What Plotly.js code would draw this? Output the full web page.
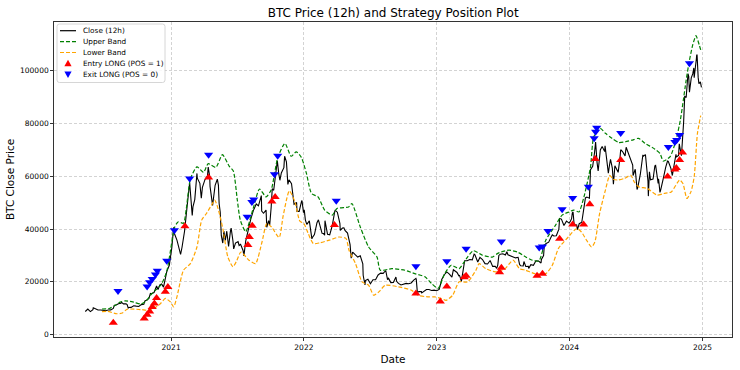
<!DOCTYPE html>
<html>
<head>
<meta charset="utf-8">
<script src="https://cdn.plot.ly/plotly-3.0.1.min.js"></script>
<style>html,body{margin:0;padding:0;background:#fff;}#chart{width:740px;height:370px;}</style>
</head>
<body>
<div id="chart"></div>
<script>
// ---- Close (weekly, starting 2020-05-10) ----
var closeStart = '2020-05-10';
var close2020 = [8750,9670,8720,9450, 9750,9340,9300,9120, 9070,9300,9380,9930, 11100,11680,11910,11650,11700,
  10250,10330,10920,10780, 10670,11380,11500,13030, 13740,15480,15960,18400,18180, 19150,19270,23860,26270];
var close2021 = [33000,38300,35800,32290,33110, 39260,48720,57540,45140, 51200,59300,57350,55800,
  58750,60200,56200,49000, 56600,58200,46400,34700,35700, 35800,39100,35500,34700, 35300,34240,31780,35400,
  39900,43800,47000,49300,48800, 51750,46000,47200,43200, 48200,54700,61500,60900,61300,
  63300,65500,58700,57200, 49400,50100,46700,50800];
var close2022 = [47300,41800,43100,36300,37900, 42400,42200,38400,37700, 38400,37800,41300,46800,
  46400,42200,40400,39500, 38500,34100,31300,30300,29400, 29900,26800,20500,21000,
  19300,20800,20800,22600,23300, 23200,24300,21500,19700, 19800,21800,19400,18800,
  19000,19400,19270,19570,20630, 20900,16330,16280,16460, 17100,17100,16740,16840];
var close2023 = [16620,17120,20880,22700,23750, 22930,21780,24300,23560, 22430,22130,28000,27990,
  28450,28330,30300,27600,29250, 28450,26900,26750,28080, 25850,25920,26340,30480,
  30620,30170,30250,29800,29280, 29080,29300,26100,26020, 25800,25850,26530,26250,
  27990,27920,27150,29990,34530, 35040,37060,37380,37450, 39970,43790,41370,43010,42280];
var close2024 = [43930,41730,41580,42030, 42580,48300,52140,51730, 63100,68950,65300,67230,71300,
  69360,65660,64940,63120, 64000,61500,66940,69400, 67750,69650,66600,64260,62680,
  55850,60800,68160,68250, 58120,58710,58970,64160, 57300,54840,59130,63580,65600,
  63000,62850,68360,67940, 68740,80470,89850,97900, 97300,101100,104460,95100,93700];
// extra 12h swing closes between the weekly points
var swingDates = ['2020-06-01','2020-07-29','2020-08-17','2020-09-02','2020-09-05','2020-10-21','2020-11-05','2020-11-26',
  '2020-12-01','2020-12-11','2020-12-17','2021-01-08','2021-01-27','2021-03-02','2021-03-13','2021-03-25','2021-04-13',
  '2021-04-17','2021-04-23','2021-05-08','2021-05-11','2021-05-13','2021-05-19','2021-05-26','2021-06-03','2021-06-08',
  '2021-06-15','2021-06-22','2021-06-30','2021-07-07','2021-07-20','2021-08-23','2021-09-06','2021-09-07','2021-09-21',
  '2021-09-29','2021-10-06','2021-10-20','2021-10-27','2021-11-09','2021-11-18','2021-12-13','2021-12-27','2021-12-31',
  '2022-01-05','2022-01-24','2022-02-10','2022-02-24','2022-02-28','2022-03-07','2022-03-28','2022-04-11','2022-04-21',
  '2022-05-05','2022-05-11','2022-06-13','2022-06-18','2022-08-19','2022-09-13','2022-11-05','2022-11-08','2022-11-09',
  '2022-11-21','2023-01-13','2023-02-16','2023-03-03','2023-03-10','2023-03-17','2023-04-14','2023-04-24','2023-06-15',
  '2023-06-21','2023-07-13','2023-08-17','2023-08-29','2023-09-11','2023-10-16','2023-10-24','2023-11-15','2023-12-05',
  '2024-01-03','2024-01-09','2024-01-11','2024-01-23','2024-02-14','2024-02-28','2024-03-05','2024-03-13','2024-03-20',
  '2024-03-26','2024-04-08','2024-04-12','2024-04-17','2024-04-23','2024-05-01','2024-05-14','2024-05-21','2024-06-05',
  '2024-06-24','2024-07-05','2024-07-22','2024-07-29','2024-08-05','2024-08-08','2024-08-14','2024-08-23','2024-09-02',
  '2024-09-06','2024-09-18','2024-09-27','2024-10-10','2024-10-21','2024-10-29','2024-11-04','2024-11-12','2024-11-13',
  '2024-11-22','2024-11-26','2024-12-05','2024-12-09','2024-12-16','2024-12-17','2024-12-20','2024-12-26'];
var swingValues = [10200,11100,12300,11400,10100,12800,15600,17100,
  18800,18000,23000,40700,30400,48400,61100,51700,63500,
  60000,51000,58900,56700,49700,37500,39200,39200,33400,
  40400,32500,35000,33800,29800,49500,52700,46800,40700,
  41500,55300,65900,58500,67600,56900,46700,50600,46200,
  43500,36700,43500,38300,43200,38000,47100,39500,40500,
  36500,29000,22500,18800,20800,20200,21300,18500,15900,
  15800,19900,24600,22300,20200,27400,30500,27500,25100,
  30000,31400,26600,27700,25100,28500,33900,37800,44000,
  42800,46100,46500,39800,51800,62500,63800,73000,62000,
  70000,71600,67000,61200,66400,57000,61500,70100,71000,
  60300,55000,67600,66800,52500,61700,58700,64000,59100,
  53900,61700,65900,60300,67300,72300,67800,88600,90400,
  98900,91900,98800,97400,106100,106000,97500,95800];

// ---- Upper band ----
var upperDates = ['2020-06-25','2020-07-15','2020-07-30','2020-08-12','2020-08-28','2020-09-20','2020-10-10','2020-10-25',
  '2020-11-05','2020-11-20','2020-12-05','2020-12-20','2021-01-04','2021-01-10','2021-01-20','2021-02-04','2021-02-12',
  '2021-02-23','2021-03-13','2021-03-31','2021-04-13','2021-05-04','2021-05-22','2021-06-10','2021-06-21','2021-07-02',
  '2021-07-10','2021-07-25','2021-08-14','2021-09-01','2021-09-19','2021-10-03','2021-10-21','2021-11-10','2021-11-27',
  '2021-12-11','2021-12-25','2022-01-08','2022-01-22','2022-02-09','2022-02-27','2022-03-20','2022-04-02','2022-05-04',
  '2022-05-13','2022-06-05','2022-06-28','2022-07-21','2022-07-30','2022-08-31','2022-10-06','2022-11-02','2022-11-30',
  '2022-12-18','2023-01-05','2023-01-23','2023-02-10','2023-03-04','2023-03-15','2023-03-27','2023-04-12','2023-05-07',
  '2023-06-03','2023-06-17','2023-06-27','2023-07-19','2023-08-11','2023-09-03','2023-09-21','2023-10-09','2023-10-28',
  '2023-11-24','2023-12-12','2023-12-31','2024-01-13','2024-01-27','2024-02-10','2024-02-28','2024-03-08','2024-03-26',
  '2024-04-09','2024-04-27','2024-05-16','2024-06-03','2024-06-21','2024-07-09','2024-07-27','2024-08-23','2024-09-06',
  '2024-09-15','2024-10-04','2024-10-20','2024-11-01','2024-11-08','2024-11-17','2024-11-26','2024-12-05','2024-12-14',
  '2024-12-23','2024-12-28'];
var upperValues = [9700,9900,11000,12200,12800,12300,11600,12800,
  14900,17000,19000,24000,36000,40500,42700,42200,48000,
  59000,63600,61500,64800,63400,68200,63800,62000,51000,
  43500,39000,47500,55200,52200,54800,67000,72500,67600,
  69300,67200,61100,53500,52200,47200,45300,47800,48400,
  49700,40800,33200,29400,24400,25000,24400,23100,21900,
  19400,17500,23100,26300,25000,27000,29400,31800,30100,
  29400,30700,31300,32000,31300,29400,28200,27900,35800,
  41500,45300,46500,47200,46500,52200,63600,75000,78200,
  76300,74400,72800,73100,73700,74400,72500,70300,68700,
  65800,67500,73700,81300,87700,96500,104000,109800,113300,
  109800,107500];

// ---- Lower band ----
var lowerDates = ['2020-06-25','2020-07-10','2020-08-05','2020-08-20','2020-09-02','2020-10-09','2020-11-05','2020-12-03',
  '2020-12-16','2020-12-30','2021-01-08','2021-01-17','2021-02-04','2021-02-23','2021-03-13','2021-03-26','2021-04-08',
  '2021-04-22','2021-05-01','2021-05-10','2021-05-24','2021-06-06','2021-06-20','2021-06-29','2021-07-12','2021-08-03',
  '2021-08-21','2021-09-08','2021-09-21','2021-10-04','2021-10-25','2021-11-05','2021-11-22','2021-12-07','2021-12-21',
  '2022-01-01','2022-01-13','2022-01-27','2022-02-14','2022-03-12','2022-04-08','2022-04-27','2022-05-05','2022-05-23',
  '2022-06-10','2022-06-28','2022-07-12','2022-07-26','2022-08-13','2022-09-18','2022-10-24','2022-11-11','2022-12-08',
  '2022-12-27','2023-01-14','2023-01-27','2023-02-14','2023-03-04','2023-03-27','2023-04-19','2023-04-28','2023-05-16',
  '2023-06-11','2023-07-08','2023-07-30','2023-08-17','2023-09-03','2023-09-28','2023-10-28','2023-11-15','2023-12-02',
  '2023-12-29','2024-01-21','2024-02-03','2024-02-17','2024-03-02','2024-03-11','2024-03-24','2024-04-09','2024-04-21',
  '2024-04-30','2024-05-13','2024-05-31','2024-06-18','2024-06-27','2024-07-10','2024-08-02','2024-08-29','2024-09-17',
  '2024-10-07','2024-10-30','2024-11-08','2024-11-19','2024-11-30','2024-12-09','2024-12-18','2024-12-27'];
var lowerValues = [8700,8800,7900,8200,9600,9500,9200,11800,
  13700,12400,10500,14300,24400,26900,33200,43400,45900,
  49100,51000,47800,39600,29400,25700,27600,31300,28200,
  26900,35200,42100,40800,36800,45000,54500,50500,43000,
  42100,38300,34500,34800,35800,37000,36400,32000,26900,
  20000,18700,14900,16200,18700,18100,16800,14900,14300,
  14300,13700,13000,14900,20000,20000,24400,26900,25000,
  23800,25000,28200,25000,24400,23100,23100,26300,32700,
  37000,40200,38900,35800,33200,35100,45900,54800,60400,
  58900,58600,59200,60400,57900,56000,55400,52900,53500,
  54100,58600,57300,51600,54100,59800,76300,83000];

// ---- Entry LONG markers ----
var entryDates = ['2020-07-26','2020-10-19','2020-10-27','2020-11-03','2020-11-10','2020-11-16','2020-11-22','2020-12-16',
  '2020-12-23','2021-02-08','2021-04-14','2021-07-31','2021-08-04','2021-08-12','2021-10-05','2021-10-14','2022-03-26',
  '2022-11-05','2023-01-11','2023-01-29','2023-03-18','2023-03-23','2023-06-23','2023-06-28','2023-10-04','2023-10-19',
  '2023-12-05','2024-01-10','2024-02-09','2024-02-26','2024-03-12','2024-05-21','2024-09-27','2024-10-17','2024-10-21',
  '2024-10-30','2024-11-07'];
var entryValues = [4500,6100,7500,8800,10500,11800,13900,16200,
  18000,41100,59600,34000,37000,41300,50500,52200,41500,
  15600,12500,18200,21700,22300,23600,25300,22300,23100,
  36300,41700,41700,49400,66600,66200,59900,62600,63200,
  66200,69000];

// ---- Exit LONG markers ----
var exitDates = ['2020-08-08','2020-10-27','2020-11-03','2020-11-10','2020-11-19','2020-11-24','2020-12-20','2021-01-10',
  '2021-02-21','2021-04-14','2021-07-29','2021-08-11','2021-08-16','2021-10-12','2021-10-21','2022-03-31','2022-11-05',
  '2023-01-29','2023-03-23','2023-06-28','2023-10-10','2023-10-19','2023-11-03','2023-12-12','2024-01-10','2024-02-22',
  '2024-03-09','2024-03-13','2024-03-16','2024-05-21','2024-09-29','2024-10-17','2024-10-22','2024-10-30','2024-11-26'];
var exitValues = [16500,18200,19800,21100,22800,24200,28000,39600,
  59200,68200,44700,50300,51200,60800,67800,50700,25900,
  27800,32500,35300,33000,33400,39300,47500,51800,56000,
  74400,76900,78400,76400,71100,73000,73800,75700,102900];

// ---- Axis ticks and legend labels ----
var xTickVals = ['2021-01-01','2022-01-01','2023-01-01','2024-01-01','2025-01-01'];
var xTickText = ['2021','2022','2023','2024','2025'];
var yTickVals = [0,20000,40000,60000,80000,100000];
var yTickText = ['0','20000','40000','60000','80000','100000'];
var legendLabels = ['Close (12h)','Upper Band','Lower Band','Entry LONG (POS = 1)','Exit LONG (POS = 0)'];

// build close series (weekly + swing points, sorted by date)
var weekly = close2020.concat(close2021, close2022, close2023, close2024);
var pts = [];
var d0 = new Date(closeStart + 'T00:00:00Z');
for (var i = 0; i < weekly.length; i++) {
  var d = new Date(d0.getTime() + i * 7 * 86400000);
  pts.push([d.toISOString().slice(0,10), weekly[i]]);
}
for (var j = 0; j < swingDates.length; j++) pts.push([swingDates[j], swingValues[j]]);
pts.sort(function(a,b){ return a[0] < b[0] ? -1 : (a[0] > b[0] ? 1 : 0); });
var closeX = pts.map(function(p){return p[0];});
var closeY = pts.map(function(p){return p[1];});

var FONT = 'DejaVu Sans, sans-serif';
var COL = {close:'#000000', upper:'#008000', lower:'#FFA500', entry:'#ff0000', exit:'#0000ff'};
var DASH = '4px,2px';

var traces = [
  {x: closeX, y: closeY, type: 'scatter', mode: 'lines', name: legendLabels[0],
   line: {color: COL.close, width: 1.1}},
  {x: upperDates, y: upperValues, type: 'scatter', mode: 'lines', name: legendLabels[1],
   line: {color: COL.upper, width: 1.2, dash: DASH, shape: 'spline', smoothing: 0.6}},
  {x: lowerDates, y: lowerValues, type: 'scatter', mode: 'lines', name: legendLabels[2],
   line: {color: COL.lower, width: 1.2, dash: DASH, shape: 'spline', smoothing: 0.6}},
  {x: entryDates, y: entryValues, type: 'scatter', mode: 'markers', name: legendLabels[3],
   marker: {symbol: 'triangle-up', size: 8, color: COL.entry, line: {width: 0}}},
  {x: exitDates, y: exitValues, type: 'scatter', mode: 'markers', name: legendLabels[4],
   marker: {symbol: 'triangle-down', size: 8, color: COL.exit, line: {width: 0}}}
];

// ---- custom compact legend (matplotlib style), built in paper coordinates ----
var M = {l: 54, r: 8, t: 22, b: 33};
var PW = 740 - M.l - M.r, PH = 370 - M.t - M.b;
function px(x){ return (x - M.l) / PW; }
function py(y){ return 1 - (y - M.t) / PH; }
var shapes = [], annotations = [];
(function(){
  var bx0 = 57, bx1 = 165, by0 = 24, by1 = 82.5, r = 2.5;
  var p = 'M ' + px(bx0 + r) + ' ' + py(by0) +
    ' L ' + px(bx1 - r) + ' ' + py(by0) + ' Q ' + px(bx1) + ' ' + py(by0) + ' ' + px(bx1) + ' ' + py(by0 + r) +
    ' L ' + px(bx1) + ' ' + py(by1 - r) + ' Q ' + px(bx1) + ' ' + py(by1) + ' ' + px(bx1 - r) + ' ' + py(by1) +
    ' L ' + px(bx0 + r) + ' ' + py(by1) + ' Q ' + px(bx0) + ' ' + py(by1) + ' ' + px(bx0) + ' ' + py(by1 - r) +
    ' L ' + px(bx0) + ' ' + py(by0 + r) + ' Q ' + px(bx0) + ' ' + py(by0) + ' ' + px(bx0 + r) + ' ' + py(by0) + ' Z';
  shapes.push({type: 'path', xref: 'paper', yref: 'paper', path: p, fillcolor: 'rgba(255,255,255,0.85)',
               line: {color: '#cccccc', width: 0.8}, layer: 'above'});
  var rows = [30.7, 41.6, 52.5, 63.4, 74.3];
  var lx0 = 60, lx1 = 76, cx = 68, tx = 80.5;
  var kinds = [
    {t: 'line', c: COL.close, dash: 'solid'},
    {t: 'line', c: COL.upper, dash: DASH},
    {t: 'line', c: COL.lower, dash: DASH},
    {t: 'up', c: COL.entry},
    {t: 'down', c: COL.exit}
  ];
  for (var k = 0; k < rows.length; k++) {
    var y = rows[k], kd = kinds[k];
    if (kd.t === 'line') {
      shapes.push({type: 'line', xref: 'paper', yref: 'paper', x0: px(lx0), x1: px(lx1), y0: py(y), y1: py(y),
                   line: {color: kd.c, width: 1.2, dash: kd.dash}, layer: 'above'});
    } else {
      var h = 3.6;
      var tri = kd.t === 'up'
        ? 'M ' + px(cx - h) + ' ' + py(y + h * 0.8) + ' L ' + px(cx + h) + ' ' + py(y + h * 0.8) + ' L ' + px(cx) + ' ' + py(y - h) + ' Z'
        : 'M ' + px(cx - h) + ' ' + py(y - h * 0.8) + ' L ' + px(cx + h) + ' ' + py(y - h * 0.8) + ' L ' + px(cx) + ' ' + py(y + h) + ' Z';
      shapes.push({type: 'path', xref: 'paper', yref: 'paper', path: tri, fillcolor: kd.c,
                   line: {width: 0}, layer: 'above'});
    }
    annotations.push({xref: 'paper', yref: 'paper', x: px(tx), y: py(y), xanchor: 'left', yanchor: 'middle',
                      text: legendLabels[k], showarrow: false, font: {family: FONT, size: 7.3, color: '#000'}});
  }
})();

var layout = {
  width: 740, height: 370,
  margin: M,
  paper_bgcolor: '#ffffff', plot_bgcolor: '#ffffff',
  font: {family: FONT, size: 8, color: '#000'},
  showlegend: false,
  title: {text: 'BTC Price (12h) and Strategy Position Plot', font: {family: FONT, size: 12, color: '#000'},
          x: 0.5313, xanchor: 'center', y: 0.965, yanchor: 'middle'},
  xaxis: {
    type: 'date', range: ['2020-02-14', '2025-03-23'],
    tickmode: 'array', tickvals: xTickVals, ticktext: xTickText,
    ticks: 'outside', ticklen: 3, tickwidth: 0.8, tickcolor: '#000',
    showline: true, mirror: true, linecolor: '#000', linewidth: 0.8,
    showgrid: true, gridcolor: '#c8c8c8', griddash: '3px,2px', gridwidth: 0.8,
    zeroline: false, tickfont: {family: FONT, size: 7.5},
    title: {text: 'Date', font: {family: FONT, size: 10.5}, standoff: 4}
  },
  yaxis: {
    range: [-910, 118500],
    tickmode: 'array', tickvals: yTickVals, ticktext: yTickText,
    ticks: 'outside', ticklen: 3, tickwidth: 0.8, tickcolor: '#000',
    showline: true, mirror: true, linecolor: '#000', linewidth: 0.8,
    showgrid: true, gridcolor: '#c8c8c8', griddash: '3px,2px', gridwidth: 0.8,
    zeroline: false, tickfont: {family: FONT, size: 7.5},
    title: {text: 'BTC Close Price', font: {family: FONT, size: 10.5}, standoff: 3}
  },
  shapes: shapes,
  annotations: annotations
};

Plotly.newPlot('chart', traces, layout, {displayModeBar: false, staticPlot: true});
</script>
</body>
</html>
